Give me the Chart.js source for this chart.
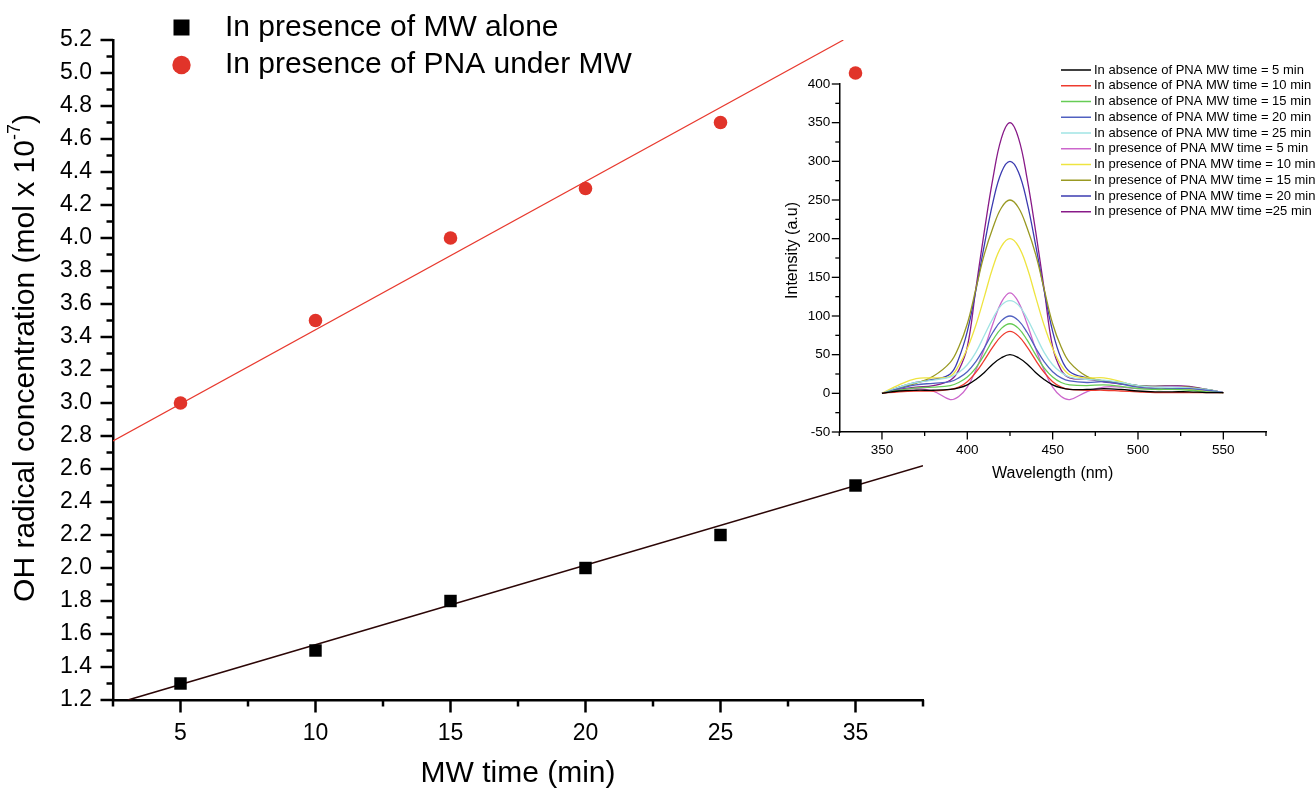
<!DOCTYPE html>
<html>
<head>
<meta charset="utf-8">
<title>OH radical concentration vs MW time</title>
<script src="https://cdn.jsdelivr.net/npm/chart.js@4.4.1/dist/chart.umd.min.js"></script>
<style>
  html, body { margin: 0; padding: 0; background: #fff; }
  #wrap { position: relative; width: 1316px; height: 789px; overflow: hidden; }
  #main { position: absolute; left: 0; top: 0; }
  #inset { position: absolute; left: 760px; top: 40px; }
</style>
</head>
<body>
<div id="wrap">
  <canvas id="main" width="1316" height="789"></canvas>
  <canvas id="inset" width="556" height="450"></canvas>
</div>
<script>
// ---- main plot data ----
// the x axis is evenly spaced by tick slot, labels as printed
const timeLabels = ['5', '10', '15', '20', '25', '35'];
const concTicks = [1.2, 1.4, 1.6, 1.8, 2.0, 2.2, 2.4, 2.6, 2.8, 3.0, 3.2, 3.4, 3.6, 3.8, 4.0, 4.2, 4.4, 4.6, 4.8, 5.0, 5.2];
const mwAlone = [1.3, 1.5, 1.8, 2.0, 2.2, 2.5];
const pnaUnderMw = [3.0, 3.5, 4.0, 4.3, 4.7, 5.0];
// fit lines, end points (x in tick slots)
const aloneFitX = [-0.39, 5.5];
const aloneFitY = [1.2, 2.62];
const pnaFitX = [-0.5, 4.91];
const pnaFitY = [2.77, 5.2];

// ---- inset spectra ----
const wavelength = [350, 360, 370, 380, 390, 395, 400, 405, 410, 415, 420, 425, 430, 435, 440, 445, 450, 455, 460, 470, 480, 490, 500, 510, 520, 530, 540, 550];
const wavelengthTicks = [350, 400, 450, 500, 550];
const intensityTicks = [-50, 0, 50, 100, 150, 200, 250, 300, 350, 400];
const abs5 = [0, 3, 4, 4, 5, 7, 11, 18, 27, 38, 46, 50, 46, 38, 27, 18, 11, 7, 5, 5, 6, 5, 3, 2, 2, 2, 1, 1];
const abs10 = [0, 2, 3, 3, 5, 8, 15, 27, 43, 60, 74, 80, 74, 60, 43, 27, 15, 8, 5, 4, 4, 3, 2, 1, 1, 1, 1, 1];
const abs15 = [0, 4, 7, 8, 10, 14, 21, 33, 50, 69, 84, 90, 84, 69, 50, 33, 21, 14, 11, 10, 11, 9, 6, 5, 5, 4, 2, 1];
const abs20 = [0, 6, 11, 13, 15, 20, 28, 41, 59, 79, 94, 100, 94, 79, 59, 41, 28, 20, 16, 14, 15, 12, 8, 6, 6, 6, 4, 1];
const abs25 = [0, 8, 14, 17, 21, 27, 37, 53, 75, 97, 114, 120, 114, 97, 75, 53, 37, 27, 21, 18, 17, 14, 10, 8, 8, 7, 5, 1];
const pre5 = [0, 4, 6, 3, -8, -4, 8, 30, 58, 90, 118, 130, 118, 90, 58, 30, 8, -4, -8, 2, 8, 8, 6, 8, 9, 7, 4, 1];
const pre10 = [0, 11, 19, 20, 22, 36, 58, 88, 125, 163, 190, 200, 190, 163, 125, 88, 58, 36, 24, 20, 20, 15, 8, 6, 6, 5, 3, 1];
const pre15 = [0, 7, 13, 22, 40, 60, 90, 135, 180, 214, 240, 250, 240, 214, 180, 135, 90, 60, 40, 22, 16, 14, 10, 9, 9, 8, 5, 1];
const pre20 = [0, 8, 14, 18, 25, 45, 80, 133, 192, 247, 286, 300, 286, 247, 192, 133, 80, 45, 28, 20, 16, 13, 10, 9, 9, 8, 5, 1];
const pre25 = [0, 5, 8, 10, 17, 30, 60, 135, 210, 278, 330, 350, 330, 278, 210, 135, 60, 30, 20, 18, 15, 12, 10, 9, 10, 9, 5, 1];
const spectra = [abs5, abs10, abs15, abs20, abs25, pre5, pre10, pre15, pre20, pre25];
const spectraLabels = [
  'In absence of PNA MW time = 5 min',
  'In absence of PNA MW time = 10 min',
  'In absence of PNA MW time = 15 min',
  'In absence of PNA MW time = 20 min',
  'In absence of PNA MW time = 25 min',
  'In presence of PNA MW time = 5 min',
  'In presence of PNA MW time = 10 min',
  'In presence of PNA MW time = 15 min',
  'In presence of PNA MW time = 20 min',
  'In presence of PNA MW time =25 min',
];
const spectraColors = ['#000000', '#ee3b2e', '#66cc55', '#5060c0', '#a0e4e4', '#cc66cc', '#eee440', '#999922', '#3b3bb0', '#881a88'];

const FAMILY = '"Liberation Sans", Arial, Helvetica, sans-serif';
Chart.defaults.font.family = FAMILY;
Chart.defaults.color = '#000';

// outward major + minor tick marks (minor halfway between majors)
const outerTicks = {
  id: 'outerTicks',
  afterDraw(chart, args, o) {
    const { ctx, chartArea } = chart;
    ctx.save();
    ctx.strokeStyle = '#000';
    ctx.lineWidth = o.width;
    ['x', 'y'].forEach((id) => {
      const scale = chart.scales[id];
      const major = scale.ticks.map((t) => t.value);
      const half = (major[1] - major[0]) / 2;
      const n = Math.round((scale.max - scale.min) / half);
      for (let k = 0; k <= n; k++) {
        const v = scale.min + k * half;
        const isMajor = major.some((m) => Math.abs(m - v) < half / 10);
        const len = isMajor ? o.major : o.minor;
        const p = scale.getPixelForValue(v);
        ctx.beginPath();
        if (id === 'x') {
          ctx.moveTo(p, chartArea.bottom);
          ctx.lineTo(p, chartArea.bottom + len);
        } else {
          ctx.moveTo(chartArea.left, p);
          ctx.lineTo(chartArea.left - len, p);
        }
        ctx.stroke();
      }
    });
    ctx.restore();
  },
};

// rotated y title, with optional superscript
const sideTitle = {
  id: 'sideTitle',
  afterDraw(chart, args, o) {
    const { ctx } = chart;
    const mainFont = `${o.size}px ${FAMILY}`;
    const supFont = `${Math.round(o.size * 0.6)}px ${FAMILY}`;
    ctx.save();
    ctx.translate(o.x, o.y);
    ctx.rotate(-Math.PI / 2);
    ctx.fillStyle = '#000';
    ctx.textBaseline = 'middle';
    ctx.textAlign = 'left';
    ctx.font = mainFont;
    const w1 = ctx.measureText(o.text).width;
    let w2 = 0;
    let w3 = 0;
    if (o.sup) {
      ctx.font = supFont;
      w2 = ctx.measureText(o.sup).width;
      ctx.font = mainFont;
      w3 = ctx.measureText(o.after).width;
    }
    let x = -(w1 + w2 + w3) / 2;
    ctx.font = mainFont;
    ctx.fillText(o.text, x, 0);
    x += w1;
    if (o.sup) {
      ctx.font = supFont;
      ctx.fillText(o.sup, x, -o.size * 0.36);
      x += w2;
      ctx.font = mainFont;
      ctx.fillText(o.after, x, 0);
    }
    ctx.restore();
  },
};

// legend for the two point series
const pointLegend = {
  id: 'pointLegend',
  afterDraw(chart, args, o) {
    const { ctx } = chart;
    ctx.save();
    ctx.font = `${o.size}px ${FAMILY}`;
    ctx.textBaseline = 'middle';
    ctx.fillStyle = '#000';
    [0, 1].forEach((i, row) => {
      const ds = chart.data.datasets[i];
      const y = o.rows[row];
      ctx.fillStyle = ds.backgroundColor;
      if (ds.pointStyle === 'rect') {
        ctx.fillRect(o.markerX - 8, y - 8, 16, 16);
      } else {
        ctx.beginPath();
        ctx.arc(o.markerX, y, 9.2, 0, Math.PI * 2);
        ctx.fill();
      }
      ctx.fillStyle = '#000';
      ctx.fillText(ds.label, o.textX, y);
    });
    ctx.restore();
  },
};

// legend for the spectra
const lineLegend = {
  id: 'lineLegend',
  afterDraw(chart, args, o) {
    const { ctx } = chart;
    ctx.save();
    ctx.font = `${o.size}px ${FAMILY}`;
    ctx.textBaseline = 'middle';
    chart.data.datasets.forEach((ds, i) => {
      const y = o.y + i * o.gap;
      ctx.strokeStyle = ds.borderColor;
      ctx.lineWidth = 1.5;
      ctx.beginPath();
      ctx.moveTo(o.x, y);
      ctx.lineTo(o.x + 30, y);
      ctx.stroke();
      ctx.fillStyle = '#000';
      ctx.fillText(ds.label, o.x + 33, y);
    });
    ctx.restore();
  },
};

new Chart(document.getElementById('main'), {
  type: 'scatter',
  data: {
    datasets: [
      {
        label: 'In presence of MW alone',
        data: mwAlone.map((y, i) => ({ x: i, y })),
        pointStyle: 'rect',
        pointRadius: 8.8,
        backgroundColor: '#000',
        borderWidth: 0,
      },
      {
        label: 'In presence of PNA under MW',
        data: pnaUnderMw.map((y, i) => ({ x: i, y })),
        pointStyle: 'circle',
        pointRadius: 6.8,
        backgroundColor: '#e1342a',
        borderWidth: 0,
      },
      {
        label: 'fit alone',
        data: aloneFitX.map((x, i) => ({ x, y: aloneFitY[i] })),
        showLine: true,
        borderColor: '#2b0606',
        borderWidth: 1.6,
        pointRadius: 0,
      },
      {
        label: 'fit PNA',
        data: pnaFitX.map((x, i) => ({ x, y: pnaFitY[i] })),
        showLine: true,
        borderColor: '#e8392e',
        borderWidth: 1.2,
        pointRadius: 0,
      },
    ],
  },
  options: {
    responsive: false,
    animation: false,
    devicePixelRatio: 1,
    layout: { padding: { top: 40, right: 393, bottom: 0, left: 0 } },
    plugins: {
      legend: { display: false },
      tooltip: { enabled: false },
      outerTicks: { width: 2.5, major: 12.5, minor: 6.5 },
      sideTitle: { x: 26, y: 358, size: 30, text: 'OH radical concentration (mol x 10', sup: '-7', after: ')' },
      pointLegend: { size: 30, markerX: 181.5, textX: 225, rows: [27.5, 65] },
    },
    scales: {
      x: {
        type: 'linear',
        min: -0.5,
        max: 5.5,
        afterBuildTicks: (s) => { s.ticks = timeLabels.map((_, i) => ({ value: i })); },
        afterFit: (s) => { s.height = 89; },
        grid: { display: false, drawTicks: false },
        border: { display: true, color: '#000', width: 2.5 },
        ticks: { padding: 20, font: { size: 23 }, autoSkip: false, maxRotation: 0, callback: (v) => timeLabels[v] },
        title: { display: true, text: 'MW time (min)', font: { size: 30, lineHeight: 1 }, padding: 0 },
      },
      y: {
        min: 1.2,
        max: 5.2,
        afterBuildTicks: (s) => { s.ticks = concTicks.map((v) => ({ value: v })); },
        afterFit: (s) => { s.width = 113; },
        grid: { display: false, drawTicks: false },
        border: { display: true, color: '#000', width: 2.5 },
        ticks: { padding: 21, font: { size: 23 }, autoSkip: false, callback: (v) => v.toFixed(1) },
      },
    },
  },
  plugins: [outerTicks, sideTitle, pointLegend],
});

new Chart(document.getElementById('inset'), {
  type: 'line',
  data: {
    datasets: spectra.map((vals, i) => ({
      label: spectraLabels[i],
      data: vals.map((y, j) => ({ x: wavelength[j], y })),
      borderColor: spectraColors[i],
      borderWidth: 1.3,
      pointRadius: 0,
      tension: 0.4,
      fill: false,
    })),
  },
  options: {
    responsive: false,
    animation: false,
    devicePixelRatio: 1,
    layout: { padding: { top: 44, right: 50, bottom: 0, left: 0 } },
    plugins: {
      legend: { display: false },
      tooltip: { enabled: false },
      outerTicks: { width: 1.3, major: 7.5, minor: 4 },
      sideTitle: { x: 33, y: 210.5, size: 16, text: 'Intensity (a.u)' },
      lineLegend: { size: 13, x: 301, y: 30, gap: 15.75 },
    },
    scales: {
      x: {
        type: 'linear',
        min: 325,
        max: 575,
        afterBuildTicks: (s) => { s.ticks = wavelengthTicks.map((v) => ({ value: v })); },
        afterFit: (s) => { s.height = 58; },
        grid: { display: false, drawTicks: false },
        border: { display: true, color: '#000', width: 1.5 },
        ticks: { padding: 10, font: { size: 13.5 }, autoSkip: false, maxRotation: 0 },
        title: { display: true, text: 'Wavelength (nm)', font: { size: 16 }, padding: { top: 0, bottom: 7 } },
      },
      y: {
        min: -50,
        max: 400,
        afterBuildTicks: (s) => { s.ticks = intensityTicks.map((v) => ({ value: v })); },
        afterFit: (s) => { s.width = 79.3; },
        grid: { display: false, drawTicks: false },
        border: { display: true, color: '#000', width: 1.5 },
        ticks: { padding: 9, font: { size: 13.5 }, autoSkip: false },
      },
    },
  },
  plugins: [outerTicks, sideTitle, lineLegend],
});
</script>
</body>
</html>
